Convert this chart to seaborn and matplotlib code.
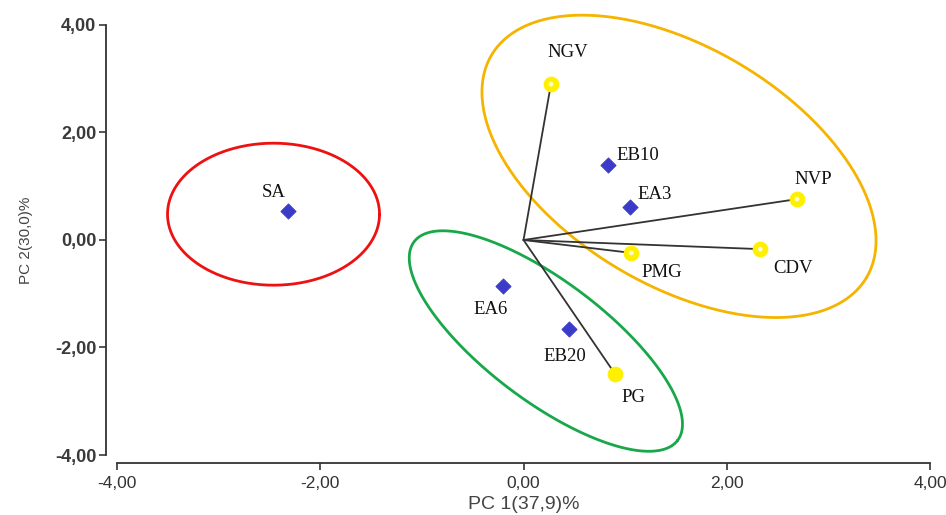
"""PCA biplot: samples (diamonds) and variables (yellow circles with loadings)."""
import matplotlib

matplotlib.use("Agg")
import matplotlib.pyplot as plt
import numpy as np
import pandas as pd
import seaborn as sns
from matplotlib.ticker import FuncFormatter, MultipleLocator

# samples (PC1, PC2 scores)
sample_names = ["SA", "EB10", "EA3", "EA6", "EB20"]
sample_pc1 = [-2.32, 0.83, 1.05, -0.20, 0.45]
sample_pc2 = [0.54, 1.40, 0.61, -0.86, -1.66]

# variables (loadings, drawn as vectors from the origin)
var_names = ["NGV", "NVP", "CDV", "PMG", "PG"]
var_pc1 = [0.27, 2.69, 2.33, 1.06, 0.90]
var_pc2 = [2.90, 0.76, -0.17, -0.24, -2.49]

# label offsets in points (dx, dy, ha)
label_offsets = {
    "SA": (-10, 13, "center"), "NGV": (12, 23, "center"), "EB10": (6.5, 6.5, "left"),
    "EA3": (5, 9, "left"), "NVP": (-1.5, 14, "left"), "CDV": (9, -14, "left"),
    "PMG": (7, -14, "left"), "EA6": (-9, -17, "center"), "EB20": (-3, -20, "center"),
    "PG": (13, -17, "center"),
}

# group ellipses: centre (data), semi-axes (pixels), angle (deg), colour
ellipses = [
    ((-2.46, 0.48), 106, 71, 0, "#ee1111"),
    ((0.22, -1.88), 165, 60, -37, "#18a84a"),
    ((1.53, 1.37), 218, 119, -30.7, "#f5b400"),
]

sns.set_style("ticks")
plt.rcParams["font.family"] = ["Liberation Sans", "DejaVu Sans"]

fig = plt.figure(figsize=(9.46, 5.15), dpi=100)
ax = fig.add_axes([0.1237, 0.1165, 0.8594, 0.835])
ax.set_xlim(-4, 4)
ax.set_ylim(-4, 4)

# pixels per data unit, for the ellipses drawn in screen geometry
sx = 0.8594 * 946 / 8
sy = 0.835 * 515 / 8
t = np.linspace(0, 2 * np.pi, 400)
for (cx, cy), a, b, ang, col in ellipses:
    th = np.deg2rad(ang)
    ex = cx + (a * np.cos(th) * np.cos(t) - b * np.sin(th) * np.sin(t)) / sx
    ey = cy + (a * np.sin(th) * np.cos(t) + b * np.cos(th) * np.sin(t)) / sy
    ax.plot(ex, ey, color=col, lw=2, zorder=2, clip_on=False)

for x, y in zip(var_pc1, var_pc2):
    ax.plot([0, x], [0, y], color="#333333", lw=1.3, zorder=3)

samples = pd.DataFrame({"pc1": sample_pc1, "pc2": sample_pc2, "name": sample_names})
variables = pd.DataFrame({"pc1": var_pc1, "pc2": var_pc2, "name": var_names})

sns.scatterplot(data=samples, x="pc1", y="pc2", marker="D", s=60, color="#3b3bc9",
                edgecolor="#3b3bc9", ax=ax, zorder=4)
sns.scatterplot(data=variables, x="pc1", y="pc2", marker="o", s=110, color="#fff000",
                edgecolor="#fff000", ax=ax, zorder=4)
sns.scatterplot(data=variables[variables.name != "PG"], x="pc1", y="pc2", marker="o",
                s=12, color="#fffbd0", edgecolor="none", ax=ax, zorder=5)

for df in (samples, variables):
    for _, r in df.iterrows():
        dx, dy, ha = label_offsets[r["name"]]
        ax.annotate(r["name"], (r.pc1, r.pc2), xytext=(dx, dy), textcoords="offset points",
                    ha=ha, va="center", fontsize=13.5, family="Liberation Serif",
                    color="#111111", zorder=6)

ax.xaxis.set_major_locator(MultipleLocator(2))
ax.yaxis.set_major_locator(MultipleLocator(2))
fmt = FuncFormatter(lambda v, _: f"{v:.2f}".replace(".", ","))
ax.xaxis.set_major_formatter(fmt)
ax.yaxis.set_major_formatter(fmt)
ax.tick_params(axis="y", labelsize=13, colors="#3a3a3a", length=5, width=1.2, pad=2)
ax.tick_params(axis="x", labelsize=12.5, colors="#333333", length=5, width=1.2, pad=4)

ax.set_xlabel("PC 1(37,9)%", fontsize=14, color="#444444", labelpad=4)
ax.set_ylabel("PC 2(30,0)%", fontsize=11, color="#444444", labelpad=16)
sns.despine(ax=ax, offset={"left": 8, "bottom": 6})
for s in ("left", "bottom"):
    ax.spines[s].set_color("#333333")
    ax.spines[s].set_linewidth(1.3)

fig.canvas.draw()
for lab in ax.get_yticklabels():
    lab.set_fontweight("bold")

fig.savefig("out.png", dpi=100)
